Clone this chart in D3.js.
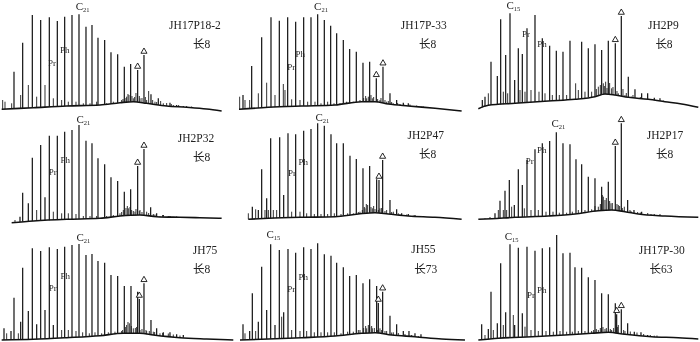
<!DOCTYPE html>
<meta charset="utf-8">
<title>Saturated hydrocarbon chromatograms</title>
<style>
body { margin: 0; background: #fff; }
svg { display: block; will-change: transform; }
.name { font-family: "Liberation Serif", "Noto Sans CJK SC", serif; fill: #222; }
.tag { font-family: "Liberation Serif", serif; fill: #222; }
</style>
<script src="https://cdn.jsdelivr.net/npm/d3@7"></script>
<body>
<script>
var width = 700, height = 342;
var colX = [0, 235, 465];
var rowZero = [113, 226, 342];
var rowTop = [0, 110, 225];

var sampleNames = ["JH17P18-2", "JH17P-33", "JH2P9", "JH2P32", "JH2P47", "JH2P17", "JH75", "JH55", "JH17P-30"];
var members = ["长8", "长8", "长8", "长8", "长8", "长8", "长8", "长73", "长63"];
var carbonTags = ["21", "21", "15", "21", "21", "21", "21", "15", "15"];

// [retention time (min), relative intensity]
var p1Peaks = [[4.2,41.3],[6.8,70.3],[9.7,98],[12.2,93],[14.8,95.7],[17.2,92],[19.4,96.3],[21.6,98],[23.7,98.7],[25.8,86.3],[27.6,88],[29.4,75.3],[31.4,73],[33.3,60.7],[35.3,58.7],[37.3,46.3],[39.2,49],[45.3,18.7],[47.5,14.7],[51,10.3],[53,8],[55,7]];
var p1Marked = [[41.3,43],[43.2,58]];
var p1Grass = [[0.8,13],[1.5,11.3],[3.5,9.7],[6.2,18],[8.5,28],[11,16.3],[13.5,28],[16,14.7],[18.5,13],[20.5,11.3],[22.8,11.3],[25,9.7],[27,9.7],[29,11.3],[32,9.7],[34,11.3],[36.5,13],[38,16.3],[38.7,18],[40,14.7],[42,14.7],[44,13],[46.5,11.3],[49,9.7],[52,8],
  [36.9,14],[37.8,15],[38.4,19],[39.6,17],[40.4,16],[40.8,20],[41.8,17],[42.6,15],[43.6,16],[44.6,22],[45.8,13],[47,11],[48.2,12],[50,10],[51.4,9],[53.6,8],[56,7],[57.5,6.5]];
var p1Base = [[0.5,3.7],[10,5.3],[20,7],[30,8],[36,10.3],[40,11.3],[44,9.7],[50,7],[56,5.7],[62,4],[66.5,2]];
var p1Tags = [[24.8,107],[15.6,50.3],[19.4,62.7]];

var p2Peaks = [[2.4,18],[5,47],[8,75.7],[10.8,95.7],[13.3,92.3],[15.8,95.7],[18.2,91.3],[20.6,95.7],[22.8,95.7],[24.8,98.7],[26.8,93],[28.7,87.3],[30.5,79.7],[32.5,73],[34.4,64],[36.4,61.3],[38.4,50.3],[40.4,51.3],[46.5,19.7],[48.5,13],[50.5,10.3],[52,9.7],[54,7],[56,6.3]];
var p2Marked = [[42.4,34.7],[44.4,46.3]];
var p2Grass = [[1.4,16.3],[3,13],[4.4,13],[7,19.7],[9.5,30.3],[12,18],[14.5,29],[15,23],[17,13.7],[19.5,13],[21.8,11.3],[24,11.3],[25.8,9.7],[27.8,11.3],[29.7,9.7],[31.5,9.7],[33.5,11.3],[35.5,11.3],[37.5,13],[39.5,14.7],[40,16.3],[41.2,14.7],[43.5,13],[45.5,11.3],[47.5,9.7],[49.5,9],
  [38.6,15],[39.2,17],[40.8,18],[41.6,16],[42.8,14],[43.8,15],[45,13],[46,12],[47,11],[48.8,10],[50.6,9],[52.5,8.5],[54.5,7.5],[56.5,6.5]];
var p2Base = [[1.2,3.7],[10,5.7],[20,7],[30,8],[38,11.3],[42,11.3],[46,9],[52,7],[60,4.7],[68,2]];
var p2Tags = [[25.8,106.3],[16.9,45.7],[19.6,58.7]];

var p3Peaks = [[5.2,13],[6,16.3],[7.8,51.3],[9.7,37],[10.7,93.7],[12.2,58],[13.5,99.7],[14.9,33],[16,64.7],[17.2,59],[18.6,84.7],[21,98],[23.2,74.7],[25.4,67.3],[27.4,62.3],[29.4,61.3],[31.5,72.3],[35,71.3],[37,64.7],[39,68.7],[41,63],[43,72.3],[49,36.3],[51,23.7],[53,19.7],[54.8,19.7],[56.8,15.3],[58.5,14.7]];
var p3Marked = [[45.1,69.7],[46.9,97]];
var p3Grass = [[7,19.7],[11.5,21.3],[12.8,19.7],[16.5,23],[18,21.3],[19.8,23],[22.2,21.3],[24,19.7],[26.2,18],[28.3,18],[30.5,18],[33.2,29.7],[34,23],[36,21.3],[38,21.3],[40,26.3],[41.5,29.7],[42.2,31.3],[44,24.7],[46,19.7],[48,18],[50,16.3],[52,14.7],
  [39.4,24],[40.6,28],[41.8,27],[42.6,25],[43.4,30],[44.4,26],[45.6,22],[47.4,24],[48.4,20],[50.4,18],[52.6,16],[55.5,14],[57.5,13],[59.5,12.5]];
var p3Base = [[4,4.3],[7,7.7],[15,9.7],[25,12],[33,13.7],[39,16.3],[42,19],[45,18],[49,15.7],[55,13.7],[60,11.3],[65,9],[70,5.7]];
var p3Tags = [[14.5,108],[18.3,79],[23.1,68.7]];

var p4Peaks = [[6,9.3],[6.8,33.3],[8.5,22.7],[9.7,68.3],[12.2,81],[13.5,28.7],[14.8,90.3],[17.2,90.3],[19.4,94.3],[21.6,96],[23.7,101],[25.8,85.3],[27.6,82.7],[29.4,67.7],[31.4,61.7],[33.3,48.7],[35.3,45],[37.3,34.3],[39.2,36.7],[45.2,18.7],[47,12.7],[49,11],[51,10]];
var p4Marked = [[41.3,60],[43.2,77]];
var p4Grass = [[4.5,6],[11,16],[16,14.3],[18.5,12.7],[20.5,12.7],[22.8,12],[25,10],[27,10],[29,10],[32,10],[34,11],[36,12.7],[37,16],[38.5,17.7],[39.5,16],[40.5,14.3],[42,16],[44,14.3],[46,12],[48,10],
  [36.5,14],[37.8,18],[38.2,20],[39,19],[40,15],[40.8,17],[41.8,15],[42.6,14],[44.6,13],[46.5,11.5],[48.8,11],[50.5,10],[53,9.5],[55,9]];
var p4Base = [[3.5,3.3],[10,5],[20,6.7],[30,7.7],[36,10],[42,11],[47,9.3],[54,8.7],[60,8.3],[66.5,7.7]];
var p4Tags = [[25,106.7],[15.8,54],[19.6,66]];

var p5Peaks = [[5.2,19.3],[7,16],[8,56.7],[9.5,27.7],[10.7,87.7],[13.4,88.7],[14.6,31],[15.9,92.7],[18.2,91.7],[20.6,95.3],[22.8,97],[24.8,102.7],[26.8,100.3],[28.8,91.7],[30.5,82.7],[32.5,82.7],[34.5,70.3],[36.4,67],[38.4,57.7],[40.4,60],[42.5,46.7],[46.5,26],[48.5,16.7],[50,12.7],[52,12],[54,11],[56,10]];
var p5Marked = [[43.2,46],[44.3,66]];
var p5Grass = [[4,12.7],[6.2,16.7],[9,16],[10,16],[11.5,16],[12.5,16],[17,14.3],[19.5,14.3],[21.5,12.7],[23.8,12],[25.8,12],[27.8,12],[29.8,12.7],[31.8,12],[33.8,12.7],[35.5,12.7],[37.5,14.3],[39,17.7],[39.8,21],[41.2,17.7],[43.5,17.7],[45.5,16],[47.5,14.3],[49,12.7],
  [37,14],[38.2,16],[38.8,19],[39.4,22],[40.8,19],[41.6,20],[42,17],[43,16],[44,18],[45,15],[47,14],[49.5,12],[51.5,11.5],[53.5,10.5],[55.5,10]];
var p5Base = [[4,6.7],[10,7.7],[20,8.7],[30,9.3],[37,12],[42,13.3],[46,12],[52,10],[60,8.7],[68,6.7]];
var p5Tags = [[26.2,108.7],[17.1,52.7],[20.5,64.3]];

var p6Peaks = [[7.5,8.7],[9,12.7],[10.5,25.3],[12,35.3],[13.3,46],[14.8,21],[16,56.7],[17.2,41],[18.6,66],[21,76.7],[23.2,82.7],[25.4,85],[27.4,93.7],[29.4,82.7],[31.5,81.7],[33.3,66.7],[35,61.7],[37,49.3],[39,47.7],[41,39.3],[43,44.3],[48.8,26],[50.7,16],[53,14.3],[54.8,12.7],[56.8,11.7],[58.5,11.7]];
var p6Marked = [[45.1,80],[46.9,102.7]];
var p6Grass = [[6,7.7],[10,16],[11.5,16],[12.5,16],[14,19.3],[17.8,17.7],[19.8,16],[22,16],[24.3,14.3],[26.4,14.3],[28.3,13.3],[30.5,13.3],[32.2,14.3],[34,16],[36,16],[38,16.7],[40,19.3],[41.5,29.3],[42,26],[43.8,22.7],[46,21],[47.8,19.3],[49.5,16],
  [39,20],[40.6,22],[41.2,31],[42.4,28],[43.4,25],[44.2,23],[45.6,22],[46.4,20],[47.2,18],[49.8,15],[51.8,14],[52.6,13.5],[55.8,12],[57.8,11]];
var p6Base = [[4,6.7],[8,7.3],[15,8.7],[25,10],[33,12],[40,15.3],[44,16],[48,14.3],[52,12],[60,10],[70,8.7]];
var p6Tags = [[28,102.7],[19.4,65],[23,76.3]];

var p7Peaks = [[1.2,13.7],[3.3,11],[4.2,44.3],[6.2,20.3],[6.8,74.3],[8.5,31],[9.7,93.7],[11,17.7],[12.2,91],[13.5,32],[14.8,94.7],[16,17],[17.2,93],[19.4,95.3],[21.6,97],[23.7,98],[25.8,87],[27.6,88],[29.4,81],[31.4,79.3],[33.3,67],[35.3,66],[37.3,56],[39.3,56],[41.3,50.3],[45.3,22],[47,13.7],[49,9.7],[51,9.7],[53,7.7],[55,7]];
var p7Marked = [[41.8,43],[43.2,58.7]];
var p7Grass = [[2,8.7],[5.5,8.7],[18.5,12],[20.5,12],[22.8,11],[24.8,9.7],[26.8,8.7],[28.5,9.7],[30.5,8.7],[32.5,9.7],[34.5,10.3],[36.5,11],[38,17],[38.8,18.7],[40,13.7],[42,12],[44,11],[46,10.3],[48,8.7],
  [36.8,12],[37.6,15],[38.4,20],[39.4,16],[40.6,14],[41,15],[42.6,13],[43.8,12],[44.8,11],[46.4,10],[48.8,9],[50.5,8.5],[52,7.5],[54,6.5]];
var p7Base = [[0.5,2],[10,2.7],[20,4.3],[30,6.3],[37,8.7],[42,8.7],[46,7],[54,4.3],[62,3],[70,2]];
var p7Tags = [[25,104.3],[15.8,54.3],[19.6,66]];

var p8Peaks = [[2.4,17.7],[4.4,11],[5.2,48.7],[7,20.3],[8,75.3],[9.5,32],[10.7,97.7],[12,17],[13.3,92],[14.6,29.7],[15.9,93],[18.2,89.3],[20.6,94.7],[22.8,93],[24.8,98.7],[26.8,87.7],[28.8,86.3],[30.5,79.3],[32.5,74.7],[34.4,66],[36.4,67],[38.4,58.7],[40.4,62.7],[42.5,56],[46.5,26.3],[48.5,17.7],[50.5,11],[52.2,11],[54,8.7],[55.8,7.7]];
var p8Marked = [[43,39],[44.3,50.3]];
var p8Grass = [[3,8.7],[6.2,11],[14,25.3],[17,12],[19.5,11],[21.5,11],[23.8,9.7],[25.8,9.7],[27.8,9.7],[29.8,9.7],[31.8,8.7],[33.8,10.3],[35.5,10.3],[37.5,12],[39.5,13.7],[40,17],[41.2,13.7],[43.5,13.7],[45.5,11],[47.5,9.7],
  [37,12],[38.6,14],[39.2,16],[40.4,15],[41,16],[41.8,14],[42.8,12],[44,12],[45,11],[47,9.5],[49,9],[51,8],[53,7],[55,6]];
var p8Base = [[1.5,2],[10,3],[20,4.3],[30,6],[38,8.7],[42,9.3],[47,7],[54,5.3],[62,3],[69,2]];
var p8Tags = [[11.5,107.7],[16.9,53],[20.5,65.3]];

var p9Peaks = [[5,17.7],[7,13],[7.8,50.3],[9.7,18.7],[10.7,78.7],[12.2,29.7],[13.5,97.7],[14.9,17],[16,94.3],[17.2,28.7],[18.6,95.3],[21,91.3],[23.2,93.7],[25.4,94.7],[27.5,107],[29.4,88.7],[31.5,89.3],[33,74.7],[35,74.3],[37,64.7],[39,62],[41,48.7],[43,47.7],[45.1,38.7],[48.8,18.7],[50.8,10.3],[52.8,9.7],[54.8,7],[56.8,6.3]];
var p9Marked = [[45.5,27.7],[46.9,32.7]];
var p9Grass = [[6,7],[8.5,12],[11.5,17],[14.5,27],[18,15.3],[19.8,12],[22,11],[24.3,11],[26.5,10.3],[28.5,11],[30.5,10.3],[32.2,10.3],[34,11],[36,11],[38,11],[40,12],[42,13],[44,12],[46,17],[48,11],
  [38.6,12],[39.4,13],[40.6,14],[41.4,15],[42.4,14],[43.6,13],[44.6,14],[45.8,15],[47.6,12],[49.6,10.5],[51.6,9.5],[53.6,8],[55.6,7],[57.6,6.5]];
var p9Base = [[4,2],[10,3.7],[20,5.3],[30,7],[38,8.7],[43,9.7],[48,7.7],[56,5.3],[64,4.3],[70,3]];
var p9Tags = [[14,105.3],[19.8,47],[23,52]];

// layout: sample name and member label centres inside each panel (px)
var namePos = [[195,25,201.7,43.3],[188.7,25,192.7,43.3],[198.3,25,199,43.3],
               [196,28.3,201.7,46.7],[190.7,25,192.7,43.3],[200,25,199.7,43.3],
               [205,25,201.7,43.3],[188.3,24,190.7,43.3],[196.7,25,196,43.3]];

var panels = [
  {peaks: p1Peaks, marked: p1Marked, grass: p1Grass, base: p1Base, tags: p1Tags},
  {peaks: p2Peaks, marked: p2Marked, grass: p2Grass, base: p2Base, tags: p2Tags},
  {peaks: p3Peaks, marked: p3Marked, grass: p3Grass, base: p3Base, tags: p3Tags},
  {peaks: p4Peaks, marked: p4Marked, grass: p4Grass, base: p4Base, tags: p4Tags},
  {peaks: p5Peaks, marked: p5Marked, grass: p5Grass, base: p5Base, tags: p5Tags},
  {peaks: p6Peaks, marked: p6Marked, grass: p6Grass, base: p6Base, tags: p6Tags},
  {peaks: p7Peaks, marked: p7Marked, grass: p7Grass, base: p7Base, tags: p7Tags},
  {peaks: p8Peaks, marked: p8Marked, grass: p8Grass, base: p8Base, tags: p8Tags},
  {peaks: p9Peaks, marked: p9Marked, grass: p9Grass, base: p9Base, tags: p9Tags}
];

var svg = d3.select('body').append('svg').attr('width', width).attr('height', height);

panels.forEach(function(p, i) {
  var col = i % 3, row = Math.floor(i / 3);
  var x = d3.scaleLinear().domain([0, 70]).range([colX[col], colX[col] + 233.3]);
  var y = d3.scaleLinear().domain([0, 110]).range([rowZero[row], rowZero[row] - 110]);
  var baseAt = d3.scaleLinear()
      .domain(p.base.map(function(d) { return d[0]; }))
      .range(p.base.map(function(d) { return d[1]; }))
      .clamp(true);
  var g = svg.append('g');

  // small peaks and hump noise
  g.selectAll('.grass').data(p.grass).enter().append('line')
    .attr('class', 'grass')
    .attr('x1', function(d) { return x(d[0]); })
    .attr('x2', function(d) { return x(d[0]); })
    .attr('y1', function(d) { return y(baseAt(d[0])); })
    .attr('y2', function(d) { return y(d[1]); })
    .attr('stroke', '#333').attr('stroke-width', 1);

  g.append('path').datum(p.base)
    .attr('d', d3.line().x(function(d) { return x(d[0]); }).y(function(d) { return y(d[1]); }).curve(d3.curveMonotoneX))
    .attr('fill', 'none').attr('stroke', '#111').attr('stroke-width', 1.6);

  var all = p.peaks.concat(p.marked);
  g.selectAll('.peak').data(all).enter().append('line')
    .attr('class', 'peak')
    .attr('x1', function(d) { return x(d[0]); })
    .attr('x2', function(d) { return x(d[0]); })
    .attr('y1', function(d) { return y(baseAt(d[0])); })
    .attr('y2', function(d) { return y(d[1]); })
    .attr('stroke', '#1a1a1a').attr('stroke-width', 1.25);

  g.selectAll('.tri').data(p.marked).enter().append('path')
    .attr('class', 'tri')
    .attr('d', d3.symbol().type(d3.symbolTriangle).size(16))
    .attr('transform', function(d) { return 'translate(' + x(d[0]) + ',' + (y(d[1]) - 3.5) + ')'; })
    .attr('fill', '#fff').attr('stroke', '#111').attr('stroke-width', 0.9);

  // carbon number label
  var c = g.append('text').attr('class', 'tag')
    .attr('x', x(p.tags[0][0])).attr('y', y(p.tags[0][1]) + 3.7)
    .attr('text-anchor', 'middle').attr('font-size', 11);
  c.append('tspan').text('C');
  c.append('tspan').attr('font-size', 6.5).attr('dy', 2).text(carbonTags[i]);

  g.append('text').attr('class', 'tag')
    .attr('x', x(p.tags[1][0])).attr('y', y(p.tags[1][1]) + 3)
    .attr('text-anchor', 'middle').attr('font-size', 9).text('Pr');
  g.append('text').attr('class', 'tag')
    .attr('x', x(p.tags[2][0])).attr('y', y(p.tags[2][1]) + 3)
    .attr('text-anchor', 'middle').attr('font-size', 9).text('Ph');

  var np = namePos[i];
  g.append('text').attr('class', 'name')
    .attr('x', colX[col] + np[0]).attr('y', rowTop[row] + np[1] + 4)
    .attr('text-anchor', 'middle').attr('font-size', 11.5).text(sampleNames[i]);
  g.append('text').attr('class', 'name')
    .attr('x', colX[col] + np[2]).attr('y', rowTop[row] + np[3] + 4.5)
    .attr('text-anchor', 'middle').attr('font-size', 11.5).text(members[i]);
});
</script>
</body>
</html>
